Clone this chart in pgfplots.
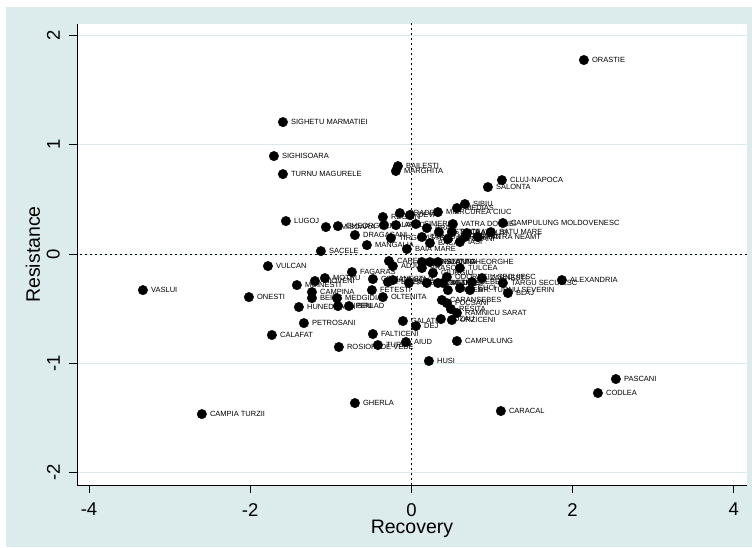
\documentclass[border=0pt]{standalone}
\usepackage{pgfplots}
\pgfplotsset{compat=1.18}
\usepackage{pgfplotstable}
\usepackage{fontspec}
\setmainfont{Liberation Sans}
\definecolor{bg}{RGB}{220,236,237}
\definecolor{gridc}{RGB}{218,235,237}
\pgfplotstableread[col sep=comma]{
x,y,label
2.140,1.776,ORASTIE
-1.594,1.208,SIGHETU MARMATIEI
-1.706,0.897,SIGHISOARA
-1.594,0.732,TURNU MAGURELE
-0.167,0.805,BAILESTI
-0.192,0.760,MARGHITA
1.123,0.677,CLUJ-NAPOCA
0.949,0.613,SALONTA
0.664,0.458,SIBIU
0.565,0.421,MEDIAS
0.329,0.384,MIERCUREA CIUC
-1.557,0.302,LUGOJ
-1.061,0.247,TIMISOARA
-0.912,0.256,GHEORGHENI
-0.354,0.339,REGHIN
-0.143,0.375,ORADEA
-0.019,0.357,DEVA
-0.341,0.265,ZALAU
-0.192,0.265,ARAD
0.056,0.275,SIMERIA
0.192,0.238,BRAD
0.341,0.201,BISTRITA
0.515,0.275,VATRA DORNEI
0.503,0.201,SUCEAVA
0.689,0.192,RADAUTI
0.130,0.156,TARGU MURES
0.230,0.101,BACAU
0.453,0.137,BOTOSANI
0.602,0.110,IASI
0.664,0.156,ROMAN
0.825,0.156,PIATRA NEAMT
0.986,0.201,SATU MARE
1.135,0.284,CAMPULUNG MOLDOVENESC
-0.701,0.174,DRAGASANI
-0.254,0.146,TIRGOVISTE
-0.552,0.082,MANGALIA
-0.056,0.046,BAIA MARE
-1.123,0.027,SACELE
-1.780,-0.110,VULCAN
-0.279,-0.064,CAREI
-0.230,-0.110,ADJUD
-0.738,-0.165,FAGARAS
-1.073,-0.220,MOTRU
-1.197,-0.247,MIOVENI
-1.421,-0.284,MOINESTI
-0.478,-0.229,COMANESTI
-0.292,-0.256,PLOIESTI
-0.230,-0.238,CRAIOVA
-0.031,-0.265,PITESTI
-1.234,-0.348,CAMPINA
-1.234,-0.403,BEIUS
-0.924,-0.403,MEDGIDIA
-0.912,-0.476,LUPENI
-0.775,-0.476,BIRLAD
-1.396,-0.485,HUNEDOARA
-0.490,-0.330,FETESTI
-0.354,-0.394,OLTENITA
-1.334,-0.632,PETROSANI
-1.731,-0.741,CALAFAT
-0.900,-0.851,ROSIORI DE VEDE
-0.478,-0.732,FALTICENI
-0.416,-0.833,TURDA
-0.068,-0.805,AIUD
-0.105,-0.613,GALATI
0.056,-0.659,DEJ
0.366,-0.595,BUZAU
0.502,-0.604,URZICENI
0.490,-0.503,RESITA
0.565,-0.540,RAMNICU SARAT
0.378,-0.421,CARANSEBES
0.440,-0.449,FOCSANI
0.565,-0.796,CAMPULUNG
0.217,-0.979,HUSI
-0.701,-1.364,GHERLA
1.110,-1.437,CARACAL
2.537,-1.144,PASCANI
2.314,-1.272,CODLEA
-2.600,-1.465,CAMPIA TURZII
1.867,-0.238,ALEXANDRIA
1.135,-0.265,TARGU SECUIESC
-3.331,-0.330,VASLUI
-2.016,-0.394,ONESTI
0.230,-0.073,SFANTU GHEORGHE
0.602,-0.128,TULCEA
0.130,-0.073,CONSTANTA
0.130,-0.128,BRASOV
0.329,-0.073,SLATINA
0.267,-0.174,GIURGIU
0.440,-0.211,ODORHEIU SECUIESC
0.192,-0.265,SLOBOZIA
0.329,-0.265,CALARASI
0.453,-0.330,BRAILA
0.602,-0.311,TECUCI
0.751,-0.256,SEBES
0.726,-0.330,DR. TURNU SEVERIN
1.197,-0.357,BLAJ
0.875,-0.220,ZARNESTI
0.391,-0.265,MEDIAS
}\datatable
\begin{document}
\begin{tikzpicture}[x=1pt,y=1pt]
\useasboundingbox (0,0) rectangle (752,547);
\fill[bg] (6,0) rectangle (752,540);
\begin{axis}[
  at={(77pt,62pt)}, anchor=south west,
  scale only axis, width=670pt, height=461pt,
  xmin=-4.149, xmax=4.164, ymin=-2.114, ymax=2.106,
  axis lines*=left,
  axis line style={black, line width=0.9pt, -},
  axis background/.style={fill=white},
  xtick={-4,-2,0,2,4}, ytick={-2,-1,0,1,2},
  tick align=outside, major tick length=8pt,
  tick style={black, line width=0.9pt},
  ymajorgrids, grid style={gridc, line width=1pt},
  /pgf/number format/assume math mode=true,
  ticklabel style={font=\fontsize{18.5}{20}\selectfont},
  xticklabel style={anchor=north, inner sep=0pt},
  yticklabel style={anchor=south, rotate=90, inner sep=0pt},
  xticklabel shift=10pt,
  yticklabel shift=9pt,
  xlabel={Recovery}, ylabel={Resistance},
  label style={font=\fontsize{19.5}{21}\selectfont},
  xlabel style={at={(axis description cs:0.5,-0.0694)}, anchor=north, inner sep=0pt, yshift=-3pt},
  ylabel style={at={(axis description cs:-0.055,0.5)}, anchor=south, inner sep=0pt},
]
\addplot[black, line width=1.1pt, dash pattern=on 2.5pt off 2.5pt] coordinates {(0,-2.3) (0,2.3)};
\addplot[black, line width=1.1pt, dash pattern=on 2.5pt off 2.5pt] coordinates {(-4.3,0) (4.3,0)};
\addplot[only marks, mark=*, mark size=4.75pt, black, mark options={fill=black},
  nodes near coords, point meta=explicit symbolic,
  every node near coord/.append style={anchor=west, xshift=8pt, inner sep=0pt,
    font=\fontsize{7.5}{8}\selectfont, text=black}]
  table[x=x, y=y, meta=label] {\datatable};
\end{axis}
\end{tikzpicture}
\end{document}
